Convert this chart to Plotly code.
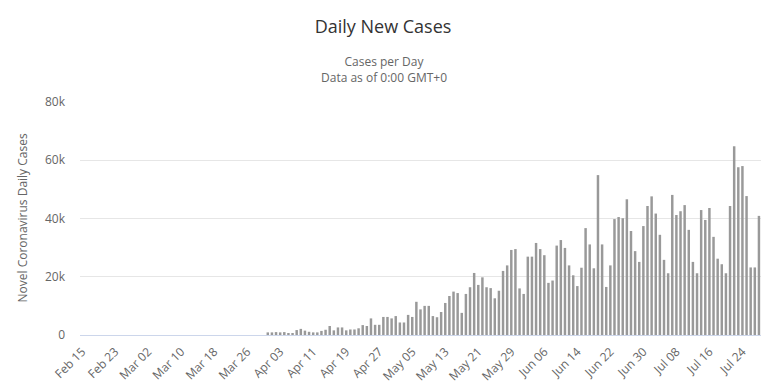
import plotly.graph_objects as go
import pandas as pd

# ---- data (Feb 15 .. Jul 28) ----
feb = [0] * 15                      # Feb 15-29: no visible bars
mar = [0] * 30 + [900]              # Mar 1-31
apr = [900, 1000, 900, 1000, 400, 600, 1700, 2100, 1500, 1100,
       900, 900, 1400, 1800, 3100, 1600, 2600, 2600, 1600, 1900,
       1900, 2300, 3400, 3100, 5700, 3500, 3500, 6200, 6200, 5700]
may = [6500, 4300, 4300, 6900, 6200, 11400, 8800, 10000, 10000, 6500,
       6100, 7900, 11000, 13400, 14900, 14400, 7600, 14100, 16400, 21300,
       17200, 19800, 16400, 16100, 12600, 15200, 22000, 23900, 29200, 29500,
       16000]
jun = [14100, 26900, 26900, 31600, 29500, 27400, 17900, 18700, 30700, 32600,
       29900, 23900, 20500, 16800, 23100, 36700, 31100, 22900, 54900, 31100,
       16500, 23900, 39800, 40500, 40100, 46600, 35700, 28800, 25100, 37400]
jul = [44300, 47600, 41700, 34400, 25800, 21200, 48100, 41200, 42500, 44600,
       36100, 25100, 21200, 42900, 39500, 43600, 33700, 26200, 24300, 21200,
       44300, 64800, 57600, 58000, 47700, 23200, 23200, 40900]

daily_cases = feb + mar + apr + may + jun + jul
dates = pd.date_range("2020-02-15", periods=len(daily_cases), freq="D")

x_tick_labels = ["Feb 15", "Feb 23", "Mar 02", "Mar 10", "Mar 18", "Mar 26",
                 "Apr 03", "Apr 11", "Apr 19", "Apr 27", "May 05", "May 13",
                 "May 21", "May 29", "Jun 06", "Jun 14", "Jun 22", "Jun 30",
                 "Jul 08", "Jul 16", "Jul 24"]
x_tick_vals = pd.date_range("2020-02-15", periods=len(x_tick_labels), freq="8D")

y_tick_vals = [0, 20000, 40000, 60000, 80000]
y_tick_labels = ["0", "20k", "40k", "60k", "80k"]

FONT = "Open Sans, Liberation Sans, sans-serif"
DAY_MS = 86400000

fig = go.Figure()
fig.add_trace(go.Bar(
    x=dates, y=daily_cases,
    marker=dict(color="#999999", line=dict(width=0)),
    width=0.6 * DAY_MS,
    name="Daily Cases",
))

fig.update_layout(
    width=766, height=392,
    margin=dict(l=80, r=5, t=102, b=57),
    paper_bgcolor="white", plot_bgcolor="white",
    showlegend=False,
    font=dict(family=FONT, color="#666666", size=11),
    title=dict(text="Daily New Cases", x=0.5, xanchor="center",
               y=1 - 27 / 392, yref="container", yanchor="middle",
               font=dict(family=FONT, size=18, color="#333333")),
    bargap=0.4,
)

fig.add_annotation(text="Cases per Day<br>Data as of 0:00 GMT+0",
                   xref="paper", yref="paper", x=0.447, y=(335 - 69) / 233,
                   xanchor="center", yanchor="middle", showarrow=False,
                   font=dict(family=FONT, size=12, color="#666666"))
fig.add_annotation(text="Novel Coronavirus Daily Cases",
                   xref="paper", yref="paper", x=(22 - 80) / 681, y=0.5,
                   xanchor="center", yanchor="middle", textangle=-90,
                   showarrow=False,
                   font=dict(family=FONT, size=12, color="#666666"))

fig.update_xaxes(
    type="date",
    range=[pd.Timestamp("2020-02-14 12:00"), pd.Timestamp("2020-07-28 12:00")],
    tickvals=x_tick_vals, ticktext=x_tick_labels, tickangle=-45,
    showgrid=False, showline=True, linecolor="#ccd6eb", linewidth=1,
    ticks="outside", ticklen=4, tickcolor="rgba(0,0,0,0)",
    tickfont=dict(family=FONT, size=12, color="#666666"),
    zeroline=False,
)
fig.update_yaxes(
    range=[0, 80000],
    tickvals=y_tick_vals, ticktext=y_tick_labels,
    showgrid=True, gridcolor="#e6e6e6", gridwidth=1,
    zeroline=False, showline=False, ticks="",
    ticklabelstandoff=14,
    tickfont=dict(family=FONT, size=12, color="#666666"),
)

fig.write_html("out.html", config={"displayModeBar": False},
               post_script="document.body.style.margin='0';")
